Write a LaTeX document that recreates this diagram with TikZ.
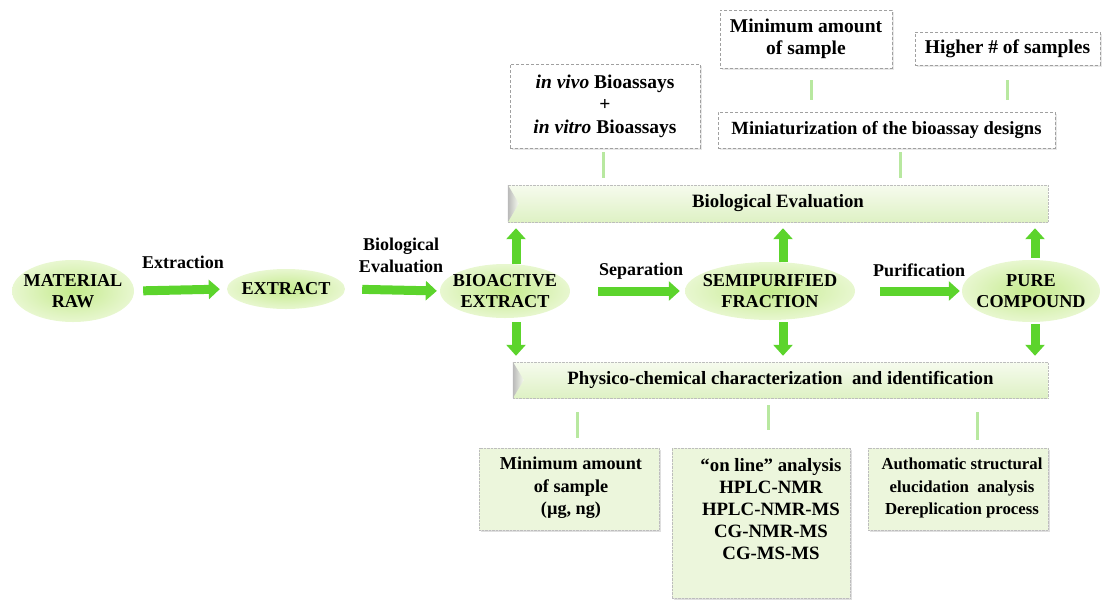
\documentclass[tikz,border=0pt]{standalone}
\usepackage{fontspec}
\setmainfont{Liberation Serif}
\usetikzlibrary{shapes.geometric,arrows.meta,shadows,calc}
\definecolor{arrowgreen}{RGB}{92,212,44}
\definecolor{linegreen}{RGB}{184,232,160}
\definecolor{ellin}{RGB}{196,234,140}
\definecolor{ellout}{RGB}{232,247,208}
\definecolor{boxfill}{RGB}{236,246,220}
\definecolor{bartop}{RGB}{246,251,238}
\definecolor{barbot}{RGB}{222,241,196}
\definecolor{bordergray}{RGB}{160,160,160}
\newcommand{\fs}[2]{\fontsize{#1}{#2}\selectfont\bfseries}
\begin{document}
\begin{tikzpicture}[x=1pt,y=-1pt,
  every node/.style={font=\fs{18.5}{21}, align=center},
  ell/.style={ellipse, inner sep=-30pt, inner color=ellin, outer color=ellout, font=\fs{18.2}{21}},
  lbl/.style={inner sep=1pt, font=\fs{18}{22}},
  bigarrow/.style={draw=arrowgreen, line width=9pt, -{Triangle[length=11pt,width=19pt]}},
  conn/.style={draw=linegreen, line width=3pt},
  topbox/.style={draw=bordergray, densely dashed, fill=white, inner sep=2pt, font=\fs{19.5}{22.5},
    drop shadow={opacity=0.18, shadow xshift=1.5pt, shadow yshift=-1.5pt}},
  bar/.style={draw=bordergray!70, densely dotted, top color=bartop, bottom color=barbot, inner sep=2pt, font=\fs{18.8}{22}},
  botbox/.style={draw=bordergray!70, densely dotted, fill=boxfill,
    drop shadow={opacity=0.25, shadow xshift=2pt, shadow yshift=-2pt}},
  bottxt/.style={inner sep=0pt, font=\fs{18.2}{22.5}}
]
\useasboundingbox (0,0) rectangle (1102,600);

% main ellipses
\node[ell, minimum width=122, minimum height=62] (raw) at (73,291) {MATERIAL\\RAW};
\node[ell, minimum width=118, minimum height=40] (extract) at (286,289) {EXTRACT};
\node[ell, minimum width=130, minimum height=54] (bio) at (505,291) {BIOACTIVE\\EXTRACT};
\node[ell, minimum width=170, minimum height=58] (semi) at (770,291) {SEMIPURIFIED\\FRACTION};
\node[ell, minimum width=138, minimum height=62] (pure) at (1031,291) {PURE\\COMPOUND};

% arrow labels
\node[lbl] (lext) at (183,262) {Extraction};
\node[lbl] (lbio) at (401,255) {Biological\\Evaluation};
\node[lbl] (lsep) at (641,271) {Separation};
\node[lbl] (lpur) at (919,270) {Purification};

% horizontal arrows
\draw[bigarrow, shorten <=9pt, shorten >=7pt] (raw.east) -- (extract.west);
\draw[bigarrow, shorten <=17pt, shorten >=3pt] (extract.east) -- (bio.west);
\draw[bigarrow, shorten <=28pt, shorten >=5pt] (bio.east) -- (semi.west);
\draw[bigarrow, shorten <=25pt, shorten >=2pt] (semi.east) -- (pure.west);

% bars
\node[bar, minimum width=540, minimum height=37] (bioeval) at (778,203.5) {Biological Evaluation};
\node[bar, minimum width=535, minimum height=36] (phys) at (780.5,380) {Physico-chemical characterization\ \ and identification};
\shade[left color=gray!55, right color=bartop] (bioeval.north west) -- ($(bioeval.west)+(11,0)$) -- (bioeval.south west) -- cycle;
\shade[left color=gray!55, right color=bartop] (phys.north west) -- ($(phys.west)+(11,0)$) -- (phys.south west) -- cycle;

% vertical arrows
\draw[bigarrow, shorten <=0pt, shorten >=6pt] ([xshift=11]bio.north) -- ([xshift=11]bio.north |- bioeval.south);
\draw[bigarrow, shorten <=0pt, shorten >=6pt] ([xshift=13]semi.north) -- ([xshift=13]semi.north |- bioeval.south);
\draw[bigarrow, shorten <=2pt, shorten >=6pt] ([xshift=4]pure.north) -- ([xshift=4]pure.north |- bioeval.south);
\draw[bigarrow, shorten <=4pt, shorten >=6pt] ([xshift=11]bio.south) -- ([xshift=11]bio.south |- phys.north);
\draw[bigarrow, shorten <=2pt, shorten >=6pt] ([xshift=13]semi.south) -- ([xshift=13]semi.south |- phys.north);
\draw[bigarrow, shorten <=2pt, shorten >=6pt] ([xshift=4]pure.south) -- ([xshift=4]pure.south |- phys.north);

% top boxes
\node[topbox, minimum width=190, minimum height=84] (vivo) at (605,106) {\textit{in vivo} Bioassays\\+\\\textit{in vitro} Bioassays};
\node[topbox, minimum width=172, minimum height=58] (mina) at (806,39) {Minimum amount\\of sample};
\node[topbox, minimum width=185, minimum height=33] (higher) at (1007.5,48.5) {Higher \# of samples};
\node[topbox, minimum width=337, minimum height=36, font=\fs{18.6}{22}] (mini) at (886.5,130) {Miniaturization of the bioassay designs};

% top connectors
\draw[conn, shorten <=12pt, shorten >=12pt] ([xshift=5]mina.south) -- ([xshift=5]mina.south |- mini.north);
\draw[conn, shorten <=15pt, shorten >=12pt] (higher.south) -- (higher.south |- mini.north);
\draw[conn, shorten <=4pt, shorten >=7pt] ([xshift=-2]vivo.south) -- ([xshift=-2]vivo.south |- bioeval.north);
\draw[conn, shorten <=4pt, shorten >=7pt] ([xshift=13.5]mini.south) -- ([xshift=13.5]mini.south |- bioeval.north);

% bottom boxes
\node[botbox, minimum width=180, minimum height=82] (b1) at (569,489) {};
\node[botbox, minimum width=178, minimum height=150] (b2) at (761,523) {};
\node[botbox, minimum width=180, minimum height=82] (b3) at (958,489) {};
\node[bottxt] (b1t) at (571,488) {Minimum amount\\of sample\\(µg, ng)};
\node[bottxt, font=\fs{18.8}{22}] (b2t) at (771,509) {“on line” analysis\\HPLC-NMR\\HPLC-NMR-MS\\CG-NMR-MS\\CG-MS-MS};
\node[bottxt, font=\fs{16.8}{22.5}] (b3t) at (962,488) {Authomatic structural\\elucidation\ \ analysis\\Dereplication process};

% bottom connectors
\draw[conn, shorten <=14pt, shorten >=10pt] ([xshift=8]b1.north |- phys.south) -- ([xshift=8]b1.north);
\draw[conn, shorten <=7pt, shorten >=18pt] ([xshift=7]b2.north |- phys.south) -- ([xshift=7]b2.north);
\draw[conn, shorten <=14pt, shorten >=8pt] ([xshift=19]b3.north |- phys.south) -- ([xshift=19]b3.north);
\end{tikzpicture}
\end{document}
